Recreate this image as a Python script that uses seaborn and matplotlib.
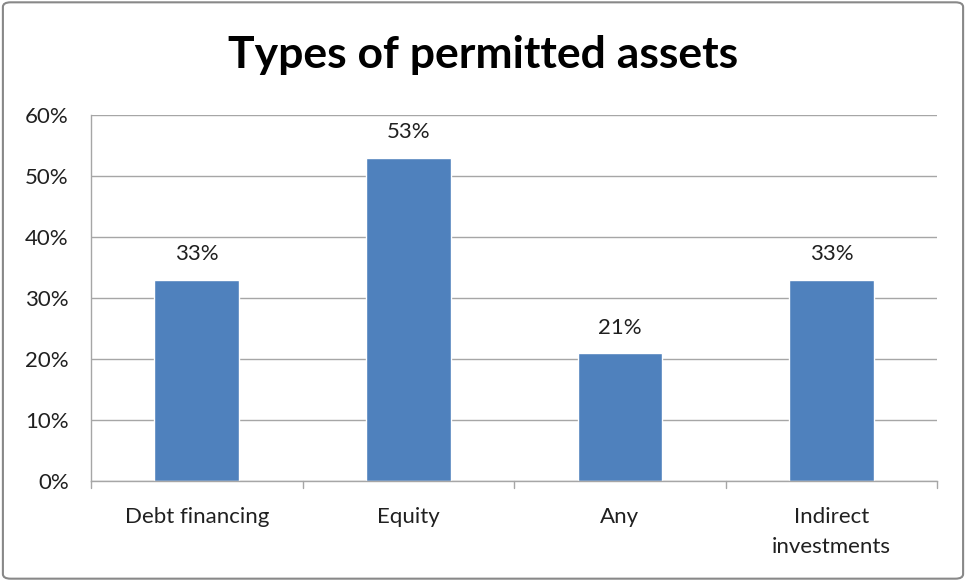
import matplotlib
matplotlib.use('Agg')
import matplotlib.pyplot as plt
import seaborn as sns
from pandas import DataFrame
from matplotlib.patches import FancyBboxPatch

###########################################################################
# data

categories = ['Debt financing', 'Equity', 'Any', 'Indirect\ninvestments']
shares = [33, 53, 21, 33]
y_ticks = [0, 10, 20, 30, 40, 50, 60]
y_tick_labels = ['0%', '10%', '20%', '30%', '40%', '50%', '60%']

###########################################################################
# plotting

sns.set_style('white')
plt.rcParams['font.family'] = ['Lato', 'DejaVu Sans']

data = DataFrame({'category': categories, 'share': shares})

fig = plt.figure(figsize=(9.66, 5.81), dpi=100)
ax = fig.add_axes([0.0942, 0.172, 0.876, 0.630])

sns.barplot(data=data, x='category', y='share', color='#4F81BD',
            saturation=1, width=0.4, ax=ax)

# data labels
for container in ax.containers:
    ax.bar_label(container, labels=[f'{v}%' for v in shares],
                 padding=11, fontsize=16, color='#202020')

# axes styling
grid_color = '#A6A6A6'
ax.set_ylim(0, 60)
ax.set_xlim(-0.5, len(categories) - 0.5)
ax.set_yticks(y_ticks)
ax.set_yticklabels(y_tick_labels, fontsize=16, color='#202020')
ax.tick_params(axis='x', labelsize=16, labelcolor='#202020', length=0, pad=19)
ax.tick_params(axis='y', length=8, color=grid_color, pad=8)
for lbl in ax.get_xticklabels():
    lbl.set_linespacing(1.6)
ax.yaxis.grid(True, color=grid_color, linewidth=1)
ax.set_axisbelow(True)
ax.set_xlabel('')
ax.set_ylabel('')
for side in ['top', 'right']:
    ax.spines[side].set_visible(False)
for side in ['left', 'bottom']:
    ax.spines[side].set_color(grid_color)
    ax.spines[side].set_linewidth(1)

# category boundary ticks below the axis
for b in range(len(categories) + 1):
    ax.plot([b - 0.5, b - 0.5], [0, -1.2], color=grid_color, linewidth=1,
            clip_on=False)

fig.suptitle('Types of permitted assets', fontsize=32, fontweight='bold',
             y=0.94, color='black')

# chart border
border = FancyBboxPatch((0.003, 0.004), 0.994, 0.992,
                        boxstyle='round,pad=0,rounding_size=0.008',
                        transform=fig.transFigure, fill=False,
                        edgecolor='#888888', linewidth=1.5)
fig.patches.append(border)

fig.savefig('out.png', dpi=100)
